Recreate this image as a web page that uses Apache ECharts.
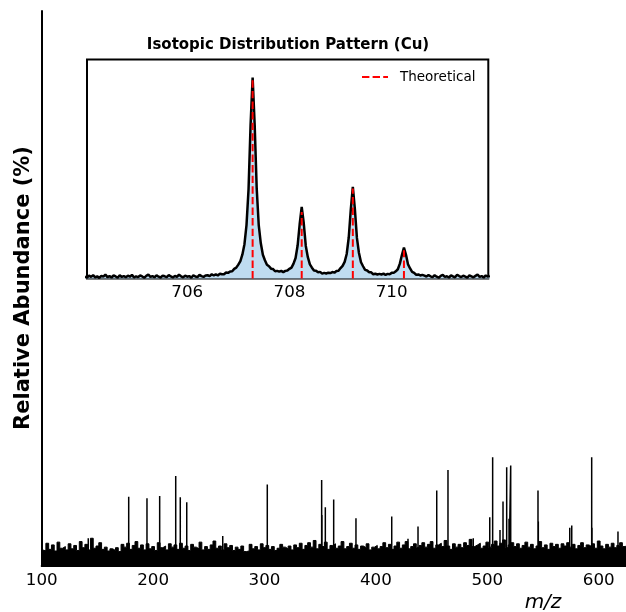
<!DOCTYPE html>
<html>
<head>
<meta charset="utf-8">
<script src="https://cdn.jsdelivr.net/npm/echarts@6/dist/echarts.min.js"></script>
<style>
  html, body { margin: 0; padding: 0; background: #fff; }
  #chart { width: 626px; height: 612px; }
</style>
</head>
<body>
<div id="chart"></div>
<script>
// main spectrum: baseline noise, one level every 2.5 m/z from 100
var noiseStart = 100;
var noiseStep = 2.5;
var noiseLevels = [
  3.6, 2.8, 4.1, 3.0, 3.8, 2.7, 4.3, 3.2, 3.5, 2.9,
  4.0, 3.1, 3.7, 2.8, 4.4, 3.3, 3.9, 2.9, 5.0, 3.2,
  3.6, 4.2, 3.0, 3.4, 2.7, 3.1, 2.8, 3.3, 2.6, 3.9,
  3.4, 4.1, 3.0, 3.7, 4.4, 3.2, 3.8, 2.9, 4.0, 3.1,
  3.5, 2.8, 4.2, 3.3, 3.6, 2.9, 4.0, 3.4, 3.8, 3.0,
  4.1, 3.2, 3.6, 2.8, 3.9, 3.4, 3.1, 4.3, 2.9, 3.5,
  3.0, 3.8, 4.5, 3.2, 3.6, 2.9, 4.0, 3.3, 3.7, 2.8,
  3.4, 3.0, 3.6, 2.6, 2.7, 3.9, 3.1, 3.5, 2.9, 4.0,
  3.3, 3.7, 3.0, 3.5, 2.8, 3.2, 3.9, 3.4, 3.1, 3.6,
  2.9, 3.8, 3.3, 4.1, 3.0, 3.7, 4.2, 3.4, 4.6, 3.1,
  3.9, 3.5, 4.3, 3.0, 3.7, 4.0, 3.2, 3.6, 4.4, 3.1,
  3.5, 4.1, 3.2, 3.8, 3.0, 3.6, 3.3, 4.0, 2.9, 3.4,
  3.7, 3.1, 3.5, 4.2, 3.3, 3.9, 3.0, 3.6, 4.3, 3.2,
  3.8, 4.4, 3.1, 3.5, 4.0, 3.3, 3.7, 4.2, 3.4, 3.9,
  4.4, 3.2, 3.8, 4.1, 3.5, 4.6, 3.6, 3.0, 4.0, 3.4,
  3.9, 3.3, 4.2, 3.7, 4.8, 3.5, 3.8, 4.1, 3.2, 3.6,
  4.3, 3.4, 3.9, 4.5, 3.6, 4.1, 4.7, 3.3, 3.8, 4.2,
  3.5, 4.0, 3.2, 3.7, 4.3, 3.4, 3.9, 3.1, 3.6, 4.4,
  3.3, 3.8, 3.0, 4.1, 3.5, 3.9, 3.2, 4.0, 3.6, 4.2,
  3.4, 3.9, 3.1, 3.7, 4.2, 3.3, 3.8, 3.5, 4.0, 3.2,
  4.5, 3.6, 3.1, 3.9, 3.4, 4.1, 3.3, 3.7, 4.2, 3.5,
  3.8, 3.2
];

// main spectrum: fragment peaks
var peakMz = [141.8, 178.1, 194.5, 205.9, 220.3, 224.4, 230.2, 262.5, 302.5, 351.3,
  351.6, 354.6, 362.1, 382.1, 414.2, 428.8, 437.8, 454.6, 464.7, 487.4,
  502.2, 504.8, 511.4, 514.1, 517.4, 519.5, 521.0, 545.5, 545.8, 574.0,
  575.8, 593.7, 594.0, 617.3];
var peakHeight = [5.0, 12.5, 12.2, 12.6, 16.2, 12.4, 11.5, 5.4, 14.7, 15.5,
  9.2, 10.6, 12.0, 8.6, 8.9, 4.9, 7.1, 13.6, 17.3, 5.0,
  8.8, 19.6, 6.5, 11.6, 17.8, 8.5, 18.1, 13.6, 8.0, 6.9,
  7.3, 19.6, 6.9, 6.2];

// inset: measured profile, one value every 0.04 m/z from 704.00
var insetStart = 704.0;
var insetStep = 0.04;
var insetIntensity = [
  .010, .004, .014, .008, .017, .006, .011, .003, .013, .009,
  .019, .007, .012, .005, .015, .010, .004, .016, .008, .012,
  .006, .014, .009, .018, .005, .011, .007, .015, .010, .004,
  .013, .020, .008, .012, .006, .016, .009, .005, .014, .011,
  .007, .017, .010, .005, .013, .008, .019, .011, .006, .014,
  .009, .012, .004, .016, .010, .007, .018, .012, .008, .015,
  .016, .012, .021, .015, .020, .015, .024, .021, .021, .030,
  .028, .035, .036, .048, .054, .069, .087, .120, .171, .266,
  .444, .766, 1.000, .765, .447, .264, .175, .118, .091, .068,
  .061, .049, .047, .036, .038, .034, .038, .032, .038, .040,
  .048, .054, .074, .102, .164, .270, .356, .275, .162, .106,
  .070, .054, .040, .039, .031, .033, .024, .028, .025, .029,
  .027, .032, .029, .037, .039, .052, .063, .083, .122, .204,
  .343, .456, .345, .202, .127, .081, .061, .043, .040, .031,
  .031, .021, .024, .020, .023, .020, .024, .018, .023, .021,
  .028, .028, .036, .046, .074, .117, .154, .118, .070, .050,
  .033, .028, .018, .020, .015, .018, .014, .010, .017,
  .011, .007, .016, .009, .004, .013, .018, .008, .011, .005,
  .015, .010, .006, .019, .012, .007, .014, .009, .004, .016,
  .011, .006, .013, .020, .008, .012, .005, .015, .009, .013
];

// inset: theoretical Cu isotope pattern
var theoMz = [707.28, 708.24, 709.24, 710.24];
var theoAbundance = [1.0, 0.331, 0.448, 0.141];

var mainTicks = [100, 200, 300, 400, 500, 600];
var insetTicks = [706, 708, 710];

var FONT = 'DejaVu Sans';

var noiseData = noiseLevels.map(function (v, i) {
  return [noiseStart + i * noiseStep, v];
});
var stickData = [];
peakMz.forEach(function (mz, i) {
  stickData.push([mz, 0], [mz, peakHeight[i]], [mz, 0]);
});
var insetData = insetIntensity.map(function (v, i) {
  return [insetStart + i * insetStep, v];
});

var dashRed = {color: '#ff0000', width: 2, type: [7.4, 3.2]};

var theoSeries = theoMz.map(function (mz, i) {
  return {
    name: 'Theoretical',
    type: 'line',
    xAxisIndex: 1,
    yAxisIndex: 1,
    symbol: 'none',
    silent: true,
    z: 5,
    lineStyle: dashRed,
    data: [[mz, 0], [mz, theoAbundance[i]]]
  };
});

var chart = echarts.init(document.getElementById('chart'), null, {renderer: 'canvas'});

var option = {
  animation: false,
  backgroundColor: '#fff',
  grid: [
    // the m/z axis runs on past the right edge of the picture
    {left: 41.7, top: 11, right: 0, height: 555},
    {left: 87, top: 59.5, width: 401.3, height: 219, show: true,
      backgroundColor: '#fff', borderColor: '#000', borderWidth: 2}
  ],
  xAxis: [
    {
      type: 'value', gridIndex: 0, min: 100, max: 624.5,
      axisLine: {lineStyle: {color: '#000', width: 2}},
      axisTick: {show: false},
      splitLine: {show: false},
      axisLabel: {color: '#000', fontFamily: FONT, fontSize: 16.7, margin: 6,
        customValues: mainTicks}
    },
    {
      type: 'value', gridIndex: 1, min: 704.04, max: 711.89,
      axisLine: {show: false},
      axisTick: {show: false},
      splitLine: {show: false},
      axisLabel: {color: '#000', fontFamily: FONT, fontSize: 16.7, margin: 6,
        customValues: insetTicks}
    }
  ],
  yAxis: [
    {
      type: 'value', gridIndex: 0, min: 0, max: 100,
      axisLine: {show: true, lineStyle: {color: '#000', width: 2}},
      axisTick: {show: false},
      axisLabel: {show: false},
      splitLine: {show: false}
    },
    {
      type: 'value', gridIndex: 1, min: 0, max: 1.09,
      axisLine: {show: false},
      axisTick: {show: false},
      axisLabel: {show: false},
      splitLine: {show: false}
    }
  ],
  series: [
    {
      type: 'line', xAxisIndex: 0, yAxisIndex: 0,
      step: 'middle', symbol: 'none', silent: true,
      lineStyle: {color: '#000', width: 1},
      areaStyle: {color: '#000', opacity: 1},
      data: noiseData
    },
    {
      type: 'line', xAxisIndex: 0, yAxisIndex: 0,
      symbol: 'none', silent: true,
      lineStyle: {color: '#000', width: 1.5},
      data: stickData
    },
    {
      type: 'line', xAxisIndex: 1, yAxisIndex: 1,
      symbol: 'none', silent: true, z: 4,
      lineStyle: {color: '#000', width: 2.5},
      areaStyle: {color: '#bfdcf0', opacity: 1},
      data: insetData
    }
  ].concat(theoSeries),
  graphic: [
    {
      type: 'text', x: 24, y: 288, rotation: Math.PI / 2,
      style: {text: 'Relative Abundance (%)', font: 'bold 21px "DejaVu Sans"',
        fill: '#000', align: 'center', verticalAlign: 'middle'}
    },
    {
      type: 'text', x: 543, y: 603,
      style: {text: 'm/z', font: 'italic 20px "DejaVu Sans"',
        fill: '#000', align: 'center', verticalAlign: 'middle'}
    },
    {
      type: 'text', x: 288, y: 45, z: 20,
      style: {text: 'Isotopic Distribution Pattern (Cu)', font: 'bold 15px "DejaVu Sans"',
        fill: '#000', align: 'center', verticalAlign: 'middle'}
    },
    {
      type: 'line', z: 20,
      shape: {x1: 362, y1: 77, x2: 388, y2: 77},
      style: {stroke: '#ff0000', lineWidth: 2, lineDash: [7.4, 3.2]}
    },
    {
      type: 'text', x: 400, y: 77, z: 20,
      style: {text: 'Theoretical', font: '13.5px "DejaVu Sans"',
        fill: '#000', align: 'left', verticalAlign: 'middle'}
    }
  ]
};

chart.setOption(option);
</script>
</body>
</html>
